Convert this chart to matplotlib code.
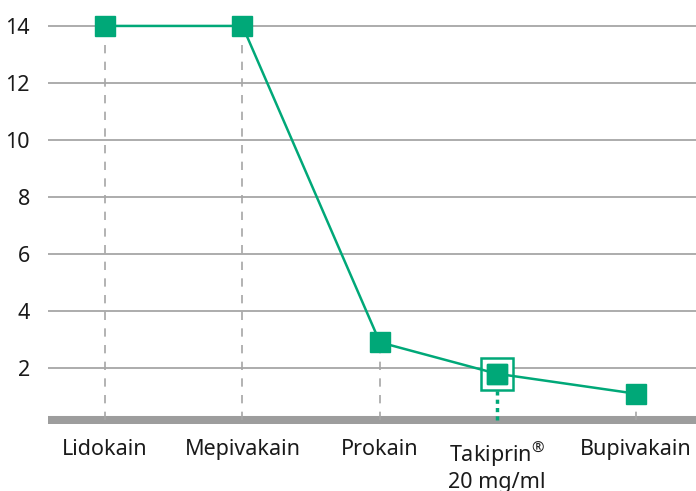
import matplotlib.pyplot as plt

# Werte
praeparate = ['Lidokain', 'Mepivakain', 'Prokain', 'Takiprin$^{®}$\n20 mg/ml', 'Bupivakain']
x_pos = [0, 1, 2, 2.85, 3.86]
werte = [14, 14, 2.9, 1.8, 1.1]
y_ticks = [2, 4, 6, 8, 10, 12, 14]

gruen = '#00A878'
grau = '#a6a6a6'
basis = 0.175

plt.rcParams['font.family'] = ['Noto Sans', 'DejaVu Sans']
plt.rcParams['mathtext.fontset'] = 'custom'
plt.rcParams['mathtext.rm'] = 'Noto Sans'
plt.rcParams['mathtext.it'] = 'Noto Sans'

fig = plt.figure(figsize=(6.96, 4.91), dpi=100)
ax = fig.add_axes([48 / 696, 67 / 491, 648 / 696, 424 / 491])

for y in y_ticks:
    ax.axhline(y, color=grau, lw=1.3, zorder=1)
ax.axhline(basis, color='#9d9d9d', lw=5.8, zorder=2)

# gestrichelte Senkrechten
for i, (x, w) in enumerate(zip(x_pos, werte)):
    if i == 3:
        ax.plot([x, x], [basis, w], color=gruen, lw=2.5, ls=(0, (1.2, 1.2)), zorder=2)
    else:
        ax.plot([x, x], [basis, w], color=grau, lw=1.2, ls=(0, (5, 5)), zorder=2)

ax.plot(x_pos, werte, color=gruen, lw=1.8, marker='s', ms=14.5,
        markerfacecolor=gruen, markeredgecolor=gruen, zorder=3)
# Rahmen um Takiprin
ax.plot(x_pos[3], werte[3], marker='s', ms=23, markerfacecolor='white',
        markeredgecolor=gruen, mew=1.8, zorder=2.5)
ax.plot(x_pos[3], werte[3], marker='s', ms=14.5, color=gruen, zorder=4)

ax.set_xlim(-0.415, 4.30)
ax.set_ylim(basis - 0.14, 14.91)
ax.set_yticks(y_ticks)
ax.set_xticks(x_pos)
ax.set_xticklabels(praeparate)
ax.tick_params(length=0, labelsize=15.5, colors='#1a1a1a')
ax.tick_params(axis='y', pad=13)
ax.tick_params(axis='x', pad=11)
for s in ax.spines.values():
    s.set_visible(False)

plt.savefig('out.png', dpi=100)
